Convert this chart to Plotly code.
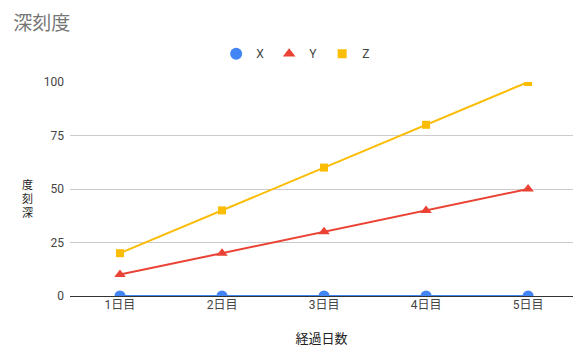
import plotly.graph_objects as go

categories = ["1日目", "2日目", "3日目", "4日目", "5日目"]
x_vals = [0, 0, 0, 0, 0]
y_vals = [10, 20, 30, 40, 50]
z_vals = [20, 40, 60, 80, 100]
series_names = ["X", "Y", "Z"]
colors = ["#4285F4", "#EA4335", "#FBBC04"]
symbols = ["circle", "triangle-up", "square"]
marker_sizes = [11, 10, 8]
legend_sizes = [12, 11, 9]
y_ticks = [0, 25, 50, 75, 100]
y_title_chars = ["度", "刻", "深"]

FONT = "Roboto, Arial, 'Noto Sans CJK JP', sans-serif"

fig = go.Figure()
idx = list(range(len(categories)))
for name, vals, c, s, ms in zip(series_names, [x_vals, y_vals, z_vals], colors, symbols, marker_sizes):
    fig.add_trace(go.Scatter(
        x=idx, y=vals, mode="lines+markers", name=name, showlegend=False,
        line=dict(color=c, width=2),
        marker=dict(color=c, symbol=s, size=ms),
    ))
for name, c, s, ms in zip(series_names, colors, symbols, legend_sizes):
    fig.add_trace(go.Scatter(
        x=[None], y=[None], mode="markers", name=name,
        marker=dict(color=c, symbol=s, size=ms),
    ))

annotations = []
for i, ch in enumerate(y_title_chars):
    py = 185 + 14 * i
    annotations.append(dict(
        text=ch, xref="paper", yref="paper", x=-0.0835, y=(296 - py) / 214,
        xanchor="center", yanchor="middle", showarrow=False,
        font=dict(size=11, color="#222222"),
    ))

fig.update_layout(
    width=573, height=347,
    margin=dict(l=70, r=0, t=82, b=51),
    paper_bgcolor="white", plot_bgcolor="white",
    font=dict(family=FONT, size=12, color="#444444"),
    title=dict(text="深刻度", x=0.023, xanchor="left", y=0.932, yanchor="middle",
               font=dict(size=19, color="#757575", family=FONT)),
    legend=dict(orientation="h", xref="container", x=0.516, xanchor="center",
                y=0.845, yref="container", yanchor="middle",
                font=dict(size=12, color="#444444"), itemwidth=30),
    xaxis=dict(
        tickmode="array", tickvals=idx, ticktext=categories,
        range=[-0.49, 4.44], showgrid=False, zeroline=False, showline=False,
        ticks="", tickfont=dict(size=12, color="#444444"),
        title=dict(text="経過日数", font=dict(size=13, color="#222222"), standoff=22),
    ),
    yaxis=dict(
        range=[0, 100], tickvals=y_ticks, showgrid=True, gridcolor="#cccccc",
        gridwidth=1, zeroline=True, zerolinecolor="#333333", zerolinewidth=1,
        showline=False, ticks="", ticklabelstandoff=5,
        tickfont=dict(size=12, color="#444444"),
    ),
    annotations=annotations,
)

fig.write_html("out.html")
